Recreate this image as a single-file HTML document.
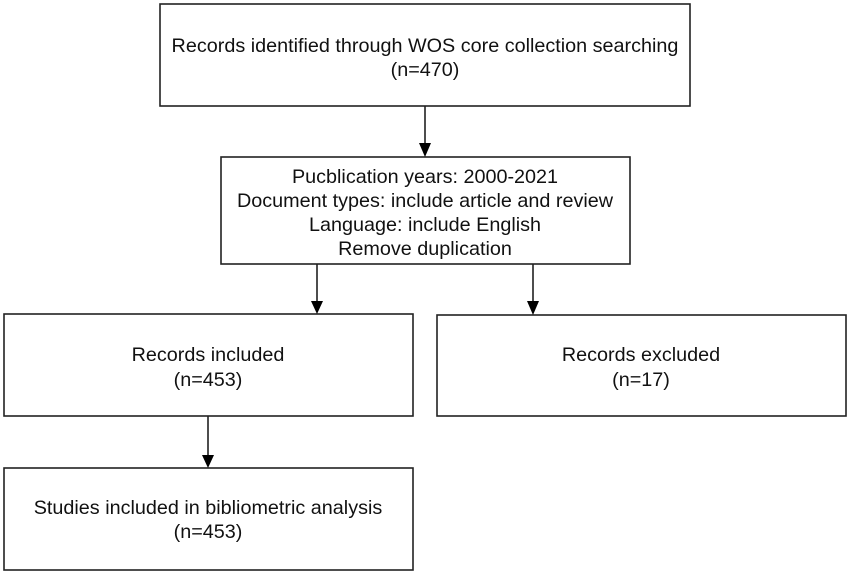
<!DOCTYPE html>
<html><head><meta charset="utf-8"><style>html,body{margin:0;padding:0;background:#fff}</style></head>
<body>
<svg width="851" height="574" xmlns="http://www.w3.org/2000/svg" font-family="Liberation Sans, Arial, sans-serif" font-size="19.8" fill="#111">
<g fill="none" stroke="#222" stroke-width="1.6">
<rect x="160" y="4" width="530" height="102"/>
<rect x="221" y="157" width="409" height="107"/>
<rect x="4" y="314" width="409" height="102"/>
<rect x="437" y="315" width="409" height="101"/>
<rect x="4" y="468" width="409" height="102"/>
<line x1="425" y1="106" x2="425" y2="143"/>
<line x1="317" y1="264" x2="317" y2="301"/>
<line x1="533" y1="264" x2="533" y2="301"/>
<line x1="208" y1="416" x2="208" y2="455"/>
</g>
<g fill="#000">
<polygon points="419,143 431,143 425,157"/>
<polygon points="311,301 323,301 317,314"/>
<polygon points="527,301 539,301 533,315"/>
<polygon points="202,455 214,455 208,468"/>
</g>
<g text-anchor="middle">
<text x="425" y="52">Records identified through WOS core collection searching</text>
<text x="425" y="76">(n=470)</text>
<text x="425" y="183">Pucblication years: 2000-2021</text>
<text x="425" y="207">Document types: include article and review</text>
<text x="425" y="231">Language: include English</text>
<text x="425" y="255">Remove duplication</text>
<text x="208" y="361">Records included</text>
<text x="208" y="386">(n=453)</text>
<text x="641" y="361">Records excluded</text>
<text x="641" y="386">(n=17)</text>
<text x="208" y="514">Studies included in bibliometric analysis</text>
<text x="208" y="538">(n=453)</text>
</g>
</svg>
</body></html>
